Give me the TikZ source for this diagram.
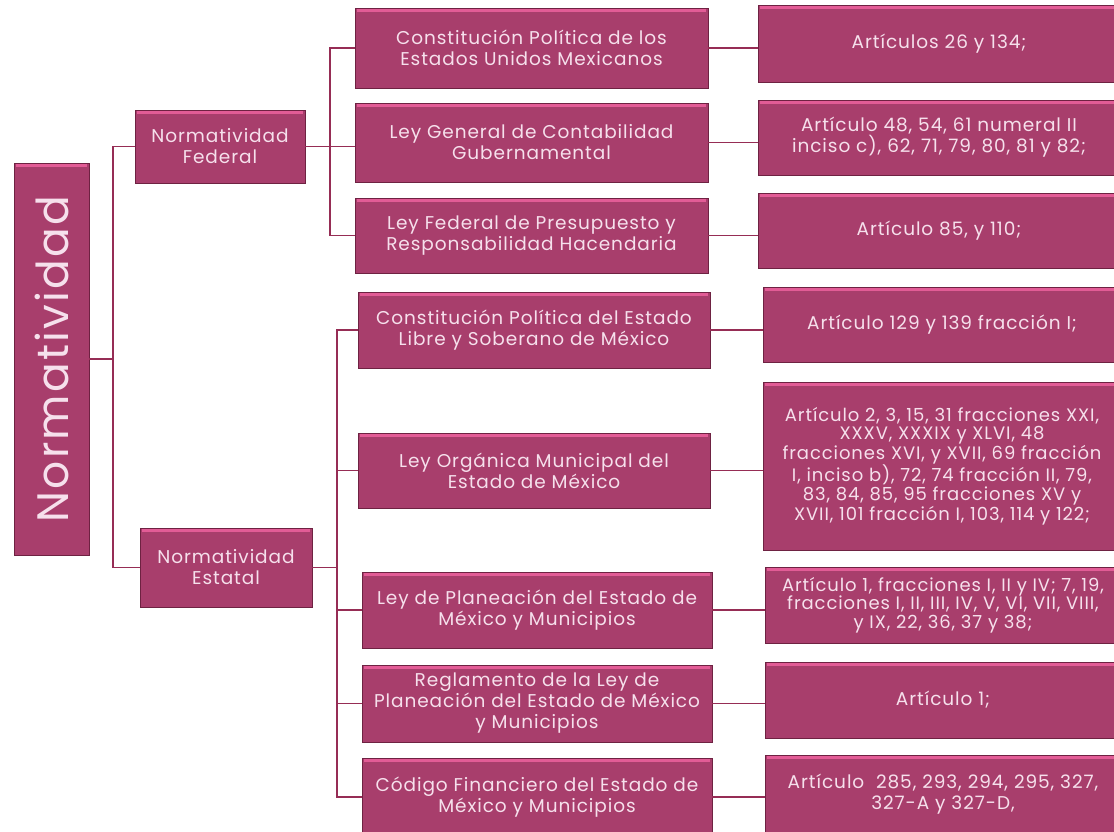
\documentclass[tikz,border=0pt]{standalone}
\usepackage{fontspec}
\setmainfont{Poppins}[LetterSpace=5]
\usetikzlibrary{calc}
\definecolor{boxfill}{RGB}{168,62,108}
\definecolor{boxhl}{RGB}{226,92,150}
\definecolor{boxdark}{RGB}{110,34,66}
\definecolor{linec}{RGB}{150,45,85}
\definecolor{txt}{RGB}{246,224,236}
\begin{document}
\begin{tikzpicture}[x=1pt,y=-1pt,
  box/.style={rectangle, fill=boxfill, draw=boxdark, line width=0.8pt, text=txt,
    align=center, inner sep=0pt, font=\fontsize{18.5}{21}\selectfont},
  small/.style={font=\fontsize{18}{18.6}\selectfont},
  hl/.style={draw=boxhl, line width=2.5pt},
  conn/.style={draw=linec, line width=1.3pt}]
\useasboundingbox (0,0) rectangle (1114,832);
\clip (0,0) rectangle (1114,832);
\fill[white] (0,0) rectangle (1114,832);

% root
\node[box, minimum width=75, minimum height=392, font=\fontsize{44}{48}\selectfont] (root) at (51.5,359)
  {\rotatebox{90}{Normatividad}};

% level 1
\node[box, minimum width=170, minimum height=73] (fed) at (220,146.5) {Normatividad\\Federal};
\node[box, minimum width=172, minimum height=79] (est) at (226,567.5) {Normatividad\\Estatal};

% federal laws
\node[box, minimum width=353, minimum height=80] (f1) at (531.5,48) {Constitución Política de los\\Estados Unidos Mexicanos};
\node[box, minimum width=353, minimum height=79] (f2) at (531.5,142.5) {Ley General de Contabilidad\\Gubernamental};
\node[box, minimum width=353, minimum height=75] (f3) at (531.5,235.5) {Ley Federal de Presupuesto y\\Responsabilidad Hacendaria};

% federal articles
\node[box, minimum width=362, minimum height=77] (r1) at (939,43.5) {Artículos 26 y 134;};
\node[box, minimum width=362, minimum height=75] (r2) at (939,137.5) {Artículo 48, 54, 61 numeral II\\inciso c), 62, 71, 79, 80, 81 y 82;};
\node[box, minimum width=362, minimum height=75] (r3) at (939,230.5) {Artículo 85, y 110;};

% state laws
\node[box, minimum width=352, minimum height=76] (e1) at (534,330) {Constitución Política del Estado\\Libre y Soberano de México};
\node[box, minimum width=352, minimum height=75] (e2) at (534,470.5) {Ley Orgánica Municipal del\\Estado de México};
\node[box, minimum width=350, minimum height=76] (e3) at (537,610) {Ley de Planeación del Estado de\\México y Municipios};
\node[box, minimum width=350, minimum height=77] (e4) at (537,703.5) {Reglamento de la Ley de\\Planeación del Estado de México\\y Municipios};
\node[box, minimum width=350, minimum height=78] (e5) at (537,797) {Código Financiero del Estado de\\México y Municipios};

% state articles
\node[box, minimum width=358, minimum height=75] (s1) at (942,324.5) {Artículo 129 y 139 fracción I;};
\node[box, small, minimum width=358, minimum height=168] (s2) at (942,466)
  {Artículo 2, 3, 15, 31 fracciones XXI,\\XXXV, XXXIX y XLVI, 48\\fracciones XVI, y XVII, 69 fracción\\I, inciso b), 72, 74 fracción II, 79,\\83, 84, 85, 95 fracciones XV y\\XVII, 101 fracción I, 103, 114 y 122;};
\node[box, small, minimum width=356, minimum height=76] (s3) at (943,605)
  {Artículo 1, fracciones I, II y IV; 7, 19,\\fracciones I, II, III, IV, V, VI, VII, VIII,\\y IX, 22, 36, 37 y 38;};
\node[box, minimum width=356, minimum height=76] (s4) at (943,700) {Artículo 1;};
\node[box, minimum width=356, minimum height=79] (s5) at (943,794.5) {Artículo\ \ 285, 293, 294, 295, 327,\\327-A y 327-D,};

% top highlights
\foreach \n in {root,fed,est,f1,f2,f3,r1,r2,r3,e1,e2,e3,e4,e5,s1,s2,s3,s4,s5}
  \draw[hl] ($(\n.north west)+(2,3)$) -- ($(\n.north east)+(-2,3)$);

% trunk connectors
\coordinate (tr) at (113,0);
\coordinate (fb) at (330,0);
\coordinate (eb) at (337,0);
\draw[conn] (root.east) -- (root.east -| tr);
\draw[conn] (fed.west) -- (fed.west -| tr) |- (est.west);

\draw[conn] (fed.east) -- (fed.east -| f2.west);
\draw[conn] (f1.west) -- (f1.west -| fb) |- (f3.west);

\draw[conn] (est.east) -- (est.east -| eb);
\draw[conn] (e1.west) -- (e1.west -| eb) |- (e5.west);
\draw[conn] (e2.west -| eb) -- (e2.west);
\draw[conn] (e3.west -| eb) -- (e3.west);
\draw[conn] (e4.west -| eb) -- (e4.west);

\draw[conn] (f1.east) -- (f1.east -| r1.west);
\draw[conn] (f2.east) -- (f2.east -| r2.west);
\draw[conn] (f3.east) -- (f3.east -| r3.west);
\draw[conn] (e1.east) -- (e1.east -| s1.west);
\draw[conn] (e2.east) -- (e2.east -| s2.west);
\draw[conn] (e3.east) -- (e3.east -| s3.west);
\draw[conn] (e4.east) -- (e4.east -| s4.west);
\draw[conn] (e5.east) -- (e5.east -| s5.west);
\end{tikzpicture}
\end{document}
